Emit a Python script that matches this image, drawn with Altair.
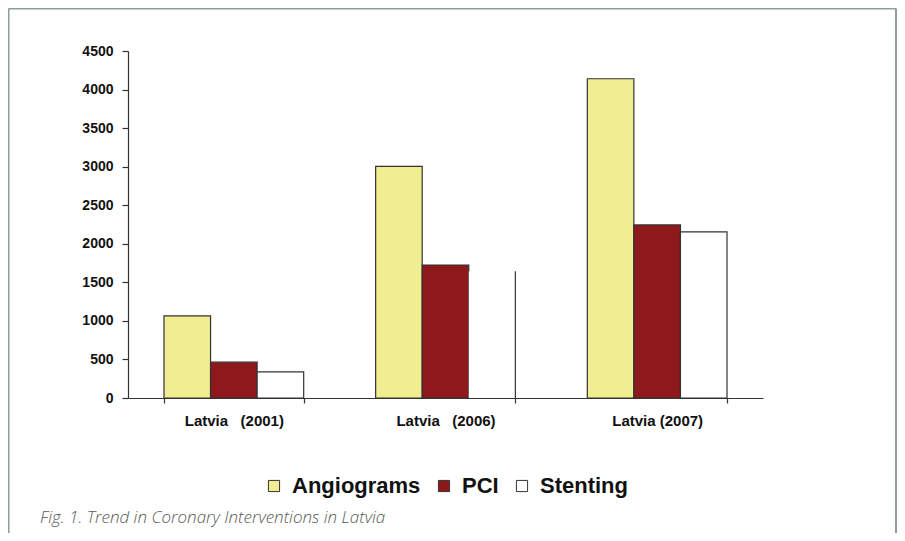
import altair as alt
import pandas as pd

# ---- data ----
categories = ["Latvia\u00a0\u00a0\u00a0(2001)", "Latvia\u00a0\u00a0\u00a0(2006)", "Latvia (2007)"]
series = ["Angiograms", "PCI", "Stenting"]
angiograms = [1065, 3005, 4140]
pci = [465, 1725, 2245]
stenting = [340, 1645, 2155]
# in the source figure the 2006 stenting bar shows only its right edge
stenting_outline = [1, 0, 1]
colors = ["#F0EE90", "#8E191C", "#FFFFFF"]
y_ticks = [0, 500, 1000, 1500, 2000, 2500, 3000, 3500, 4000, 4500]
caption = "Fig. 1. Trend in Coronary Interventions in Latvia"

rows = []
for i, c in enumerate(categories):
    rows.append({"cat": c, "series": "Angiograms", "value": angiograms[i], "outline": 1})
    rows.append({"cat": c, "series": "PCI", "value": pci[i], "outline": 1})
    rows.append({"cat": c, "series": "Stenting", "value": stenting[i], "outline": stenting_outline[i]})
df = pd.DataFrame(rows)

FONT = "Liberation Sans"
AX = "#333333"

x_axis = alt.Axis(title=None, labelAngle=0, tickBand="extent", tickSize=5,
                  labelPadding=10, labelFont=FONT, labelFontSize=15,
                  labelFontWeight="bold", labelColor="#111111",
                  domainColor=AX, tickColor=AX, domainWidth=1.2, tickWidth=1.2)
x_scale = alt.Scale(paddingInner=0.34, paddingOuter=0.17)
y_axis = alt.Axis(title=None, values=y_ticks, format="d", labelOverlap=False,
                  grid=False, tickSize=6, tickCount=10,
                  labelPadding=9, labelFont=FONT, labelFontSize=14,
                  labelFontWeight="bold", labelColor="#111111",
                  domainColor=AX, tickColor=AX, domainWidth=1.2, tickWidth=1.2)
y_scale = alt.Scale(domain=[0, 4500], nice=False)

bars = alt.Chart(df).mark_bar(stroke=AX, strokeWidth=1.2).encode(
    x=alt.X("cat:N", sort=categories, scale=x_scale, axis=x_axis),
    xOffset=alt.XOffset("series:N", sort=series,
                        scale=alt.Scale(paddingInner=0, paddingOuter=0)),
    y=alt.Y("value:Q", scale=y_scale, axis=y_axis),
    color=alt.Color(
        "series:N",
        scale=alt.Scale(domain=series, range=colors),
        legend=alt.Legend(
            title=None, orient="none", direction="horizontal",
            legendX=135, legendY=424, padding=0,
            symbolType="square", symbolSize=125,
            symbolStrokeColor="#333333", symbolStrokeWidth=1,
            labelFont=FONT, labelFontSize=22, labelFontWeight="bold",
            labelColor="#111111", labelOffset=7, columnPadding=12,
        ),
    ),
    strokeOpacity=alt.StrokeOpacity("outline:Q", scale=None),
)

edge = alt.Chart(df).transform_filter("datum.outline == 0").mark_rule(
    color=AX, strokeWidth=1.2
).encode(
    x=alt.X("cat:N", sort=categories, bandPosition=1, scale=x_scale, axis=x_axis),
    y=alt.Y("value:Q", scale=y_scale, axis=y_axis),
    y2=alt.datum(0),
)

one = pd.DataFrame({"k": [0]})
FRAME = "#8E9D98"
frame_top = alt.Chart(one).mark_rule(color=FRAME, strokeWidth=2).encode(
    x=alt.value(-119.5), x2=alt.value(768), y=alt.value(-42.5))
frame_left = alt.Chart(one).mark_rule(color=FRAME, strokeWidth=2).encode(
    x=alt.value(-119.5), y=alt.value(-42.5), y2=alt.value(490))
frame_right = alt.Chart(one).mark_rule(color=FRAME, strokeWidth=2).encode(
    x=alt.value(768), y=alt.value(-42.5), y2=alt.value(490))

cap = alt.Chart(pd.DataFrame({"t": [caption]})).mark_text(
    align="left", baseline="alphabetic", font="Open Sans", fontStyle="italic",
    fontWeight=300, fontSize=17, color="#5a5a5a"
).encode(text="t:N", x=alt.value(-88), y=alt.value(472))

chart = alt.layer(bars, edge, frame_top, frame_left, frame_right, cap).properties(
    width=635, height=347,
    padding={"left": 120, "top": 43, "right": 134, "bottom": 135},
    autosize=alt.AutoSizeParams(type="none"),
    background="#FFFFFF",
).configure_view(stroke=None)

chart.save("out.html", embed_options={"renderer": "svg", "actions": False})
